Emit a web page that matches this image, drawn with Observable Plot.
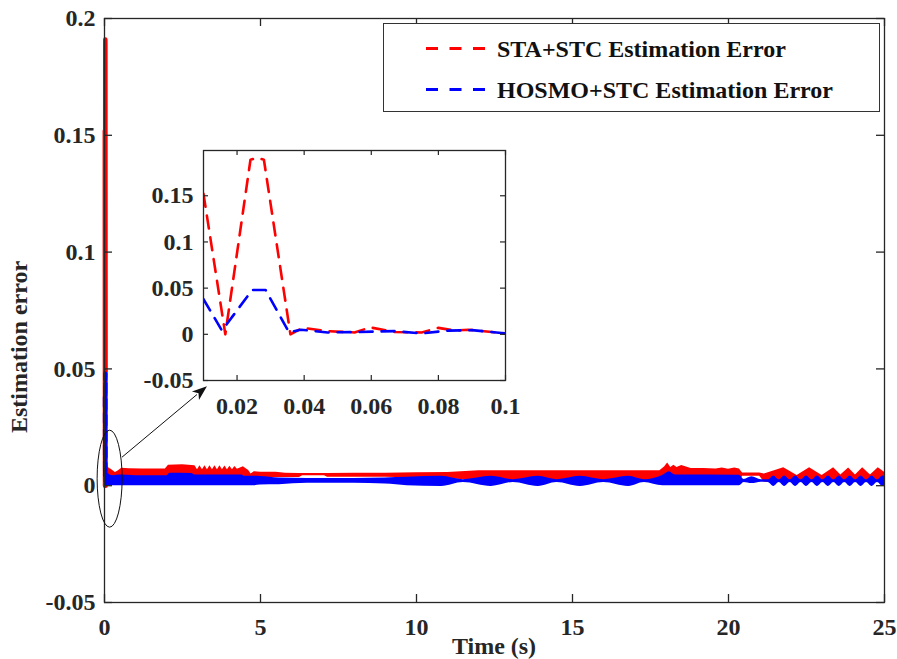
<!DOCTYPE html>
<html><head><meta charset="utf-8">
<script src="https://cdn.jsdelivr.net/npm/d3@7"></script>
<script src="https://cdn.jsdelivr.net/npm/@observablehq/plot@0.6"></script>
<style>
body{margin:0;background:#fff;}
#wrap{position:relative;width:897px;height:659px;overflow:hidden;}
#wrap svg{position:absolute;}
</style></head><body><div id="wrap"></div><script>
// ---------- data ----------
const xTicks = [0, 5, 10, 15, 20, 25];
const yTicks = [-0.05, 0, 0.05, 0.1, 0.15, 0.2];
const insetXTicks = [0.02, 0.04, 0.06, 0.08, 0.1];
const insetYTicks = [-0.05, 0, 0.05, 0.1, 0.15];
const seriesNames = ["STA+STC Estimation Error", "HOSMO+STC Estimation Error"];

// initial transient (first 0.1 s), as seen in the zoomed inset
const staT = [0.010, 0.0165, 0.024, 0.026, 0.028, 0.0359, 0.0395, 0.047, 0.055, 0.0597, 0.067, 0.075, 0.080, 0.085, 0.089, 0.100];
const staY = [0.152, 0.000, 0.189, 0.191, 0.189, 0.000, 0.007, 0.0035, 0.002, 0.0075, 0.0025, 0.002, 0.007, 0.004, 0.005, 0.001];
const hosT = [0.010, 0.0155, 0.0245, 0.0285, 0.0355, 0.039, 0.047, 0.056, 0.067, 0.075, 0.083, 0.090, 0.100];
const hosY = [0.038, 0.004, 0.048, 0.048, 0.002, 0.005, 0.002, 0.0025, 0.0035, 0.001, 0.004, 0.0045, 0.001];

// envelope of the fast chattering band (upper / lower edge) for the rest of the run
const staBandT  = [0.03, 0.2, 0.35, 0.45, 0.55, 0.8, 1.2, 1.6, 1.95, 2.05, 2.5, 2.8, 2.9, 2.98, 3.06, 3.14, 3.22, 3.30, 3.38, 3.46, 3.54, 3.62, 3.70, 3.78, 3.86, 3.94, 4.02, 4.10, 4.18, 4.26, 4.45, 4.62, 4.70, 4.80, 5.0, 5.5, 5.8, 6.25, 6.35, 7.05, 7.15, 8.0, 9.0, 10.0, 11.0, 12.0, 17.8, 17.95, 18.05, 18.15, 18.25, 18.35, 18.5, 18.8, 19.2, 19.6, 19.8, 20.0, 20.2, 20.35, 20.45, 21.0, 21.15, 21.77, 22.2, 22.6, 23.0, 23.37, 23.6, 23.85, 24.07, 24.3, 24.55, 24.8, 25.0];
const staBandHi = [0.0078, 0.0071, 0.0057, 0.0064, 0.0075, 0.0073, 0.0071, 0.0072, 0.0071, 0.0088, 0.0090, 0.0086, 0.0085, 0.0068, 0.0085, 0.0068, 0.0085, 0.0068, 0.0085, 0.0068, 0.0085, 0.0068, 0.0085, 0.0068, 0.0084, 0.0068, 0.0083, 0.0068, 0.0082, 0.0070, 0.0081, 0.0065, 0.0050, 0.0060, 0.0058, 0.0058, 0.0053, 0.0052, 0.0052, 0.0052, 0.0052, 0.0053, 0.0053, 0.0055, 0.0057, 0.0064, 0.0064, 0.0080, 0.0097, 0.0078, 0.0088, 0.0078, 0.0086, 0.0074, 0.0074, 0.0072, 0.0076, 0.0070, 0.0076, 0.0072, 0.0054, 0.0054, 0.0050, 0.0077, 0.0044, 0.0077, 0.0044, 0.0077, 0.0046, 0.0076, 0.0046, 0.0077, 0.0046, 0.0077, 0.0058];
const staBandLo = [0.0003, 0.0003, 0.0003, 0.0003, 0.0003, 0.0003, 0.0003, 0.0003, 0.0003, 0.0003, 0.0003, 0.0003, 0.0003, 0.0003, 0.0003, 0.0003, 0.0003, 0.0003, 0.0003, 0.0003, 0.0003, 0.0003, 0.0003, 0.0003, 0.0003, 0.0003, 0.0003, 0.0003, 0.0003, 0.0003, 0.0003, 0.0003, 0.0030, 0.0035, 0.0035, 0.0035, 0.0035, 0.0035, 0.0043, 0.0043, 0.0036, 0.0036, 0.0036, 0.0033, 0.0030, 0.0022, 0.0022, 0.0004, 0.0004, 0.0004, 0.0004, 0.0004, 0.0004, 0.0004, 0.0004, 0.0004, 0.0004, 0.0004, 0.0004, 0.0004, 0.0040, 0.0040, 0.0015, 0.0015, 0.0015, 0.0015, 0.0015, 0.0015, 0.0015, 0.0015, 0.0015, 0.0015, 0.0015, 0.0015, 0.0015];

const hosBandT  = [0.03, 0.3, 0.5, 1.0, 2.0, 2.1, 2.8, 2.9, 4.4, 4.5, 4.8, 5.0, 5.6, 6.5, 8.0, 9.0, 9.7, 10.8, 11.5, 12.4, 13.1, 13.9, 14.5, 15.25, 16.0, 16.8, 17.3, 17.9, 18.1, 18.3, 20.35, 20.5, 20.75, 21.05, 21.275, 21.45, 21.625, 21.8, 21.975, 22.15, 22.325, 22.5, 22.675, 22.85, 23.025, 23.2, 23.375, 23.55, 23.725, 23.9, 24.075, 24.25, 24.425, 24.6, 24.775, 24.95, 25.0];
const hosBandHi = [0.0050, 0.0043, 0.0046, 0.0043, 0.0043, 0.0053, 0.0052, 0.0046, 0.0046, 0.0040, 0.0040, 0.0039, 0.0033, 0.0031, 0.0031, 0.0033, 0.0036, 0.0040, 0.0026, 0.0040, 0.0026, 0.0040, 0.0026, 0.0040, 0.0026, 0.0040, 0.0026, 0.0045, 0.0060, 0.0046, 0.0045, 0.0027, 0.0038, 0.0025, 0.0025, 0.0042, 0.0025, 0.0042, 0.0025, 0.0042, 0.0025, 0.0042, 0.0025, 0.0042, 0.0025, 0.0042, 0.0025, 0.0042, 0.0025, 0.0042, 0.0025, 0.0042, 0.0025, 0.0042, 0.0025, 0.0042, 0.0040];
const hosBandLo = [0.0000, 0.0000, 0.0000, 0.0000, 0.0000, 0.0000, 0.0000, 0.0000, 0.0000, 0.0000, 0.0000, 0.0003, 0.0004, 0.0010, 0.0010, 0.0007, 0.0000, -0.0003, 0.0014, -0.0003, 0.0014, -0.0003, 0.0014, -0.0003, 0.0014, -0.0003, 0.0014, 0.0000, 0.0000, 0.0000, 0.0000, 0.0014, 0.0009, 0.0015, 0.0014, -0.0003, 0.0014, -0.0003, 0.0014, -0.0003, 0.0014, -0.0003, 0.0014, -0.0003, 0.0014, -0.0003, 0.0014, -0.0003, 0.0014, -0.0003, 0.0014, -0.0003, 0.0014, -0.0003, 0.0014, -0.0003, 0.0000];

// ---------- tables for Plot ----------
const staTrans = staT.map((t, i) => ({t, y: staY[i]}));
const hosTrans = hosT.map((t, i) => ({t, y: hosY[i]}));
const staBand = staBandT.map((t, i) => ({t, lo: staBandLo[i], hi: staBandHi[i]}));
const hosBand = hosBandT.map((t, i) => ({t, lo: hosBandLo[i], hi: hosBandHi[i]}));

const FONT = "'Liberation Serif', 'Times New Roman', Times, serif";
const FS = "24px";
const INK = "#262626";
const RED = "#ff0000", BLUE = "#0000ff";
const fmt = d => String(d);

// ---------- main chart ----------
const W = 897, H = 659, mL = 104, mR = 13, mT = 18, mB = 57;
const tickPxX = 8 * 25 / (W - mL - mR);
const tickPxY = 8 * 0.25 / (H - mT - mB);

const main = Plot.plot({
  width: W, height: H,
  marginLeft: mL, marginRight: mR, marginTop: mT, marginBottom: mB,
  style: {fontFamily: FONT, fontSize: FS, fontWeight: "bold", color: INK, background: "white"},
  x: {domain: [0, 25], label: null},
  y: {domain: [-0.05, 0.2], label: null},
  marks: [
    Plot.areaY(staBand, {x: "t", y1: "lo", y2: "hi", fill: RED, curve: "linear"}),
    Plot.line(staTrans, {x: "t", y: "y", stroke: RED, strokeWidth: 4.5}),
    Plot.areaY(hosBand, {x: "t", y1: "lo", y2: "hi", fill: BLUE, curve: "monotone-x"}),
    Plot.line(hosTrans, {x: "t", y: "y", stroke: BLUE, strokeWidth: 4, strokeDasharray: "10,6"}),
    Plot.ruleX(xTicks, {x: d => d, y1: -0.05, y2: -0.05 + tickPxY, stroke: INK, strokeWidth: 1.3}),
    Plot.ruleX(xTicks, {x: d => d, y1: 0.2 - tickPxY, y2: 0.2, stroke: INK, strokeWidth: 1.3}),
    Plot.ruleY(yTicks, {y: d => d, x1: 0, x2: tickPxX, stroke: INK, strokeWidth: 1.3}),
    Plot.ruleY(yTicks, {y: d => d, x1: 25 - tickPxX, x2: 25, stroke: INK, strokeWidth: 1.3}),
    Plot.frame({stroke: INK, strokeWidth: 1.3}),
    Plot.axisX(xTicks, {tickSize: 0, tickPadding: 15, tickFormat: fmt, label: null, fill: INK}),
    Plot.axisY(yTicks, {tickSize: 0, tickPadding: 9, tickFormat: fmt, label: null, fill: INK})
  ]
});
main.style.left = "0px"; main.style.top = "0px";
document.getElementById("wrap").appendChild(main);

const sx = main.scale("x"), sy = main.scale("y");
const svg = d3.select(main);

// axis titles
svg.append("text").attr("transform", "translate(27,347) rotate(-90)")
  .attr("text-anchor", "middle").attr("fill", INK)
  .style("font-family", FONT).style("font-size", FS).style("font-weight", "bold")
  .text("Estimation error");
svg.append("text").attr("x", (mL + W - mR) / 2).attr("y", 654)
  .attr("text-anchor", "middle").attr("fill", INK)
  .style("font-family", FONT).style("font-size", FS).style("font-weight", "bold")
  .text("Time (s)");

// ellipse marking the transient
const ecx = sx.apply(0.18), ecy = sy.apply(0.0028);
svg.append("ellipse").attr("cx", ecx).attr("cy", ecy).attr("rx", 12.5).attr("ry", 48.5)
  .attr("fill", "none").attr("stroke", "#111").attr("stroke-width", 1);

// arrow to the inset
const a0 = [sx.apply(0.577), sy.apply(0.012)], a1 = [sx.apply(3.30), sy.apply(0.0424)];
const dx = a1[0] - a0[0], dy = a1[1] - a0[1], L = Math.hypot(dx, dy);
const ux = dx / L, uy = dy / L, nx = -uy, ny = ux, hl = 15, hw = 5.5;
const bx = a1[0] - hl * ux, by = a1[1] - hl * uy;
svg.append("line").attr("x1", a0[0]).attr("y1", a0[1]).attr("x2", bx + 2 * ux).attr("y2", by + 2 * uy)
  .attr("stroke", "#111").attr("stroke-width", 1);
svg.append("path").attr("d", `M${a1[0]},${a1[1]}L${bx + hw * nx},${by + hw * ny}L${bx + 4 * ux},${by + 4 * uy}L${bx - hw * nx},${by - hw * ny}Z`)
  .attr("fill", "#111");

// legend
const lg = svg.append("g").attr("text-anchor", "start");
lg.append("rect").attr("x", 383.5).attr("y", 23.5).attr("width", 496).attr("height", 88)
  .attr("fill", "white").attr("stroke", "#333").attr("stroke-width", 1);
[[RED, 48.5, 56.5], [BLUE, 89.5, 97.5]].forEach(([c, ly, ty], i) => {
  lg.append("line").attr("x1", 426).attr("x2", 488).attr("y1", ly).attr("y2", ly)
    .attr("stroke", c).attr("stroke-width", 3).attr("stroke-dasharray", "12,11.5");
  lg.append("text").attr("x", 497).attr("y", ty).attr("fill", "#111").attr("text-anchor", "start")
    .style("text-anchor", "start")
    .style("font-family", FONT).style("font-size", FS).style("font-weight", "bold")
    .text(seriesNames[i]);
});

// ---------- inset ----------
const iW = 385, iH = 275, iL = 63, iR = 20, iT = 5, iB = 40;
const itx = 5 * 0.09 / (iW - iL - iR), ity = 5 * 0.249 / (iH - iT - iB);
const inset = Plot.plot({
  width: iW, height: iH,
  marginLeft: iL, marginRight: iR, marginTop: iT, marginBottom: iB,
  style: {fontFamily: FONT, fontSize: FS, fontWeight: "bold", color: INK, background: "transparent", overflow: "visible"},
  x: {domain: [0.01, 0.1], label: null},
  y: {domain: [-0.05, 0.199], label: null},
  marks: [
    Plot.frame({fill: "white"}),
    Plot.line(staTrans, {x: "t", y: "y", stroke: RED, strokeWidth: 2.6, strokeDasharray: "13,9", clip: true}),
    Plot.line(hosTrans, {x: "t", y: "y", stroke: BLUE, strokeWidth: 2.6, strokeDasharray: "13,9", clip: true}),
    Plot.ruleX(insetXTicks, {x: d => d, y1: -0.05, y2: -0.05 + ity, stroke: INK, strokeWidth: 1.2}),
    Plot.ruleX(insetXTicks, {x: d => d, y1: 0.199 - ity, y2: 0.199, stroke: INK, strokeWidth: 1.2}),
    Plot.ruleY(insetYTicks, {y: d => d, x1: 0.01, x2: 0.01 + itx, stroke: INK, strokeWidth: 1.2}),
    Plot.ruleY(insetYTicks, {y: d => d, x1: 0.1 - itx, x2: 0.1, stroke: INK, strokeWidth: 1.2}),
    Plot.frame({stroke: INK, strokeWidth: 1.3}),
    Plot.axisX(insetXTicks, {tickSize: 0, tickPadding: 16, tickFormat: fmt, label: null, fill: INK}),
    Plot.axisY(insetYTicks, {tickSize: 0, tickPadding: 10, tickFormat: fmt, label: null, fill: INK})
  ]
});
inset.style.left = "140px"; inset.style.top = "145px";
document.getElementById("wrap").appendChild(inset);
</script></body></html>
